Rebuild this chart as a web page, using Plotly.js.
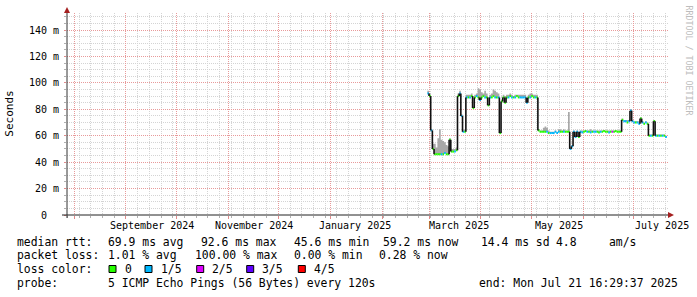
<!DOCTYPE html>
<html><head><meta charset="utf-8">
<script src="https://cdn.plot.ly/plotly-3.0.1.min.js"></script>
<style>html,body{margin:0;padding:0;background:#fff;}#chart{width:697px;height:297px;}</style>
</head><body><div id="chart"></div>
<script>
// ---- data (one value per day, starting 2025-02-28) ----
const firstDay = '2025-02-28';
const medianRtt = [
 92,90,64,50,46,46,46,46,46,46,
 47,46,46,57,48,48,48,49,90,92,
 75,63,63,89,89,89,90,81,89,90,
 89,87,89,90,89,89,83,89,89,90,
 89,89,89,62,86,89,85,89,89,90,
 89,89,89,90,89,89,89,89,89,85,
 89,89,90,89,89,89,64,63,63,63,
 63,63,62,62,62,62,63,62,63,63,
 63,63,63,63,63,50,52,63,59,63,
 59,63,62.5,63,63.5,63,63,62.5,63,63,
 63,63,62.5,63,63,63.5,63,63,62.5,63,
 63,63,63.5,63,63,63,72,71,71,70,
 71,79,71,70,70,70,69,73,70,69,
 70,69,60,60,60,71,60,60,60,60,
 60,60,59,59];
const smokeMax = [
 94,92,65,54,54,51,58,65,57,56,
 55,53,52,58,50,50,50,51,92,94,
 76,64,65,91,91,91,92,82,91,92,
 96,95,93,92,94,92,84,91,92,95,
 94,93,92,63,87,91,90,91,91,92,
 91,90,91,91,91,91,91,91,91,86,
 91,92,92,91,91,91,65,64,64,66,
 67,66,64,63,63,63,64,63,65,65,
 64,65,64,64,78,51,53,64,60,64,
 60,64,64,64,64,64,64,65,64,64,
 64,64,64,64,64,64,64,64,64,64,
 64,64,64,64,64,64,73,72,72,72,
 72,80,72,71,71,71,71,74,71,70,
 71,70,61,61,61,72,61,61,61,61,
 61,61,60,60];
const lossLevel = [
 1,0,1,0,0,0,0,0,1,0,
 1,0,0,0,0,0,1,0,0,1,
 1,1,0,1,0,1,0,0,0,1,
 0,1,0,0,1,0,0,1,0,0,
 1,0,1,0,0,0,0,0,1,0,
 1,0,1,0,0,1,1,1,1,1,
 0,1,0,0,1,0,0,0,0,0,
 0,1,0,1,1,1,1,1,1,0,
 0,1,0,0,0,1,1,1,1,1,
 0,1,1,0,0,1,0,1,0,1,
 1,0,0,1,0,0,0,0,1,0,
 2,0,0,0,0,0,0,1,1,0,
 1,1,1,1,0,1,1,0,1,0,
 1,0,0,1,0,0,1,0,1,0,
 1,0,1,0];
const lossColors = ['#26ff00','#00b8ff','#dd00ff','#5e00ff','#ff0000'];
const lossLabels = ['0','1/5','2/5','3/5','4/5'];
const monthLines = ['2024-08-01','2024-09-01','2024-10-01','2024-11-01','2024-12-01','2025-01-01',
  '2025-02-01','2025-03-01','2025-04-01','2025-05-01','2025-06-01','2025-07-01'];
const xLabelDates = ['2024-09-16 10:00','2024-11-16 10:00','2025-01-16 00:00','2025-03-18 20:00','2025-05-17 20:00','2025-07-17 22:00'];
const xLabelText = ['September 2024','November 2024','January 2025','March 2025','May 2025','July 2025'];
const yTickVals = [0,20,40,60,80,100,120,140];
const yTickText = ['0\u00a0\u00a0','20 m','40 m','60 m','80 m','100 m','120 m','140 m'];
const statsRtt = ['median rtt:','69.9 ms avg','92.6 ms max','45.6 ms min','59.2 ms now','14.4 ms sd','4.8','am/s'];
const statsLoss = ['packet loss:','1.01 % avg','100.00 % max','0.00 % min','0.28 % now'];
const probeText = ['probe:','5 ICMP Echo Pings (56 Bytes) every 120s','end: Mon Jul 21 16:29:37 2025'];

// ---- layout helpers (pixel -> paper) ----
const L=67, T=13, W=602, H=202;
const px = x => (x-L)/W, py = y => (T+H-y)/H;

const dates = medianRtt.map((_,i)=>{
  const d = new Date(Date.parse(firstDay+'T00:00:00Z') + i*86400000);
  return d.toISOString().slice(0,10);
});

const traces = [];
traces.push({x:dates,y:medianRtt,mode:'lines',line:{width:0,shape:'hv'},hoverinfo:'skip',showlegend:false});
traces.push({x:dates,y:smokeMax,mode:'lines',fill:'tonexty',fillcolor:'#a8a8a8',line:{width:0,shape:'hv'},hoverinfo:'skip',showlegend:false});
for(let lv=0; lv<lossColors.length; lv++){
  const xs=[], ys=[];
  for(let i=0;i<medianRtt.length-1;i++){
    if(lossLevel[i]===lv){ xs.push(dates[i],dates[i+1],null); ys.push(medianRtt[i],medianRtt[i],null); }
  }
  if(xs.length) traces.push({x:xs,y:ys,mode:'lines',line:{color:lossColors[lv],width:2},hoverinfo:'skip',showlegend:false});
}
{
  const xs=[], ys=[];
  for(let i=1;i<medianRtt.length;i++){
    if(Math.abs(medianRtt[i]-medianRtt[i-1])>=1.5){ xs.push(dates[i],dates[i],null); ys.push(medianRtt[i-1],medianRtt[i],null); }
  }
  traces.push({x:xs,y:ys,mode:'lines',line:{color:'#111111',width:1.6},hoverinfo:'skip',showlegend:false});
}

const mono = 'DejaVu Sans Mono';
const ann = [];
xLabelDates.forEach((d,i)=>ann.push({x:d,xref:'x',y:py(225),yref:'paper',text:xLabelText[i],showarrow:false,xanchor:'center',yanchor:'middle',font:{family:mono,size:10,color:'#000'}}));
ann.push({x:px(10),xref:'paper',y:py(113.7),yref:'paper',text:'Seconds',textangle:-90,showarrow:false,xanchor:'center',yanchor:'middle',font:{family:mono,size:11,color:'#000'}});
ann.push({x:px(688.5),xref:'paper',y:py(60),yref:'paper',text:'RRDTOOL / TOBI OETIKER',textangle:90,showarrow:false,xanchor:'center',yanchor:'middle',font:{family:mono,size:8.3,color:'#bdbdbd'}});
const legFont = {family:mono,size:11.4,color:'#000'};
const addTxt=(x,y,t)=>ann.push({x:px(x-1),xref:'paper',y:py(y),yref:'paper',text:t,showarrow:false,xanchor:'left',yanchor:'middle',font:legFont});
[16,107,200,293.3,381.7,480,555,608].forEach((x,i)=>addTxt(x,241.7,statsRtt[i]));
[16,107,194,293.3,378.3].forEach((x,i)=>addTxt(x,255,statsLoss[i]));
addTxt(16,269.3,'loss color:');
const boxX=[109,145,196.7,246.7,298.3];
const shapes=[];
boxX.forEach((x,i)=>{
  shapes.push({type:'rect',xref:'paper',yref:'paper',x0:px(x),x1:px(x+7),y0:py(272.5),y1:py(265.5),fillcolor:lossColors[i],line:{color:'#000',width:1}});
  addTxt(x+14.5,269.3,lossLabels[i]);
});
addTxt(16,282.7,probeText[0]); addTxt(107,282.7,probeText[1]); addTxt(478,282.7,probeText[2]);

shapes.push({type:'line',xref:'paper',yref:'paper',x0:0,x1:0,y0:py(218),y1:py(10),line:{color:'#333',width:1}});
shapes.push({type:'line',xref:'paper',yref:'paper',x0:px(62),x1:px(670),y0:0,y1:0,line:{color:'#222',width:1}});
shapes.push({type:'path',xref:'paper',yref:'paper',path:`M ${px(64)} ${py(13)} L ${px(70)} ${py(13)} L ${px(67)} ${py(7)} Z`,fillcolor:'#a52020',line:{color:'#a52020',width:0}});
shapes.push({type:'path',xref:'paper',yref:'paper',path:`M ${px(668)} ${py(212)} L ${px(668)} ${py(218)} L ${px(674)} ${py(215)} Z`,fillcolor:'#a52020',line:{color:'#a52020',width:0}});

const layout = {
  width:697,height:297,margin:{l:L,r:697-L-W,t:T,b:297-T-H,pad:0},
  paper_bgcolor:'#fff',plot_bgcolor:'#fff',showlegend:false,
  xaxis:{type:'date',range:['2024-07-27 19:40','2025-07-22 07:10'],tickmode:'array',tickvals:monthLines,
    showticklabels:false,showgrid:true,gridcolor:'#e89a9a',griddash:'1px,1px',gridwidth:1,
    ticks:'outside',ticklen:3,tickcolor:'#e08a8a',showline:false,zeroline:false,fixedrange:true,
    minor:{tick0:'2024-07-28',dtick:604800000,showgrid:true,gridcolor:'#d4d4d4',griddash:'1px,1px',ticks:'outside',ticklen:2,tickcolor:'#b0b0b0'}},
  yaxis:{range:[0,152.9],tickmode:'array',tickvals:yTickVals,ticktext:yTickText,
    tickfont:{family:mono,size:10,color:'#000'},showgrid:true,gridcolor:'#e89a9a',griddash:'1px,1px',
    ticks:'outside',ticklen:2,tickcolor:'#e08a8a',showline:false,zeroline:false,fixedrange:true,ticklabelstandoff:3,
    minor:{dtick:5,showgrid:true,gridcolor:'#d4d4d4',griddash:'1px,1px',ticks:'outside',ticklen:2,tickcolor:'#b0b0b0'}},
  annotations:ann,shapes:shapes
};
Plotly.newPlot('chart',traces,layout,{displayModeBar:false,staticPlot:true});
</script></body></html>
